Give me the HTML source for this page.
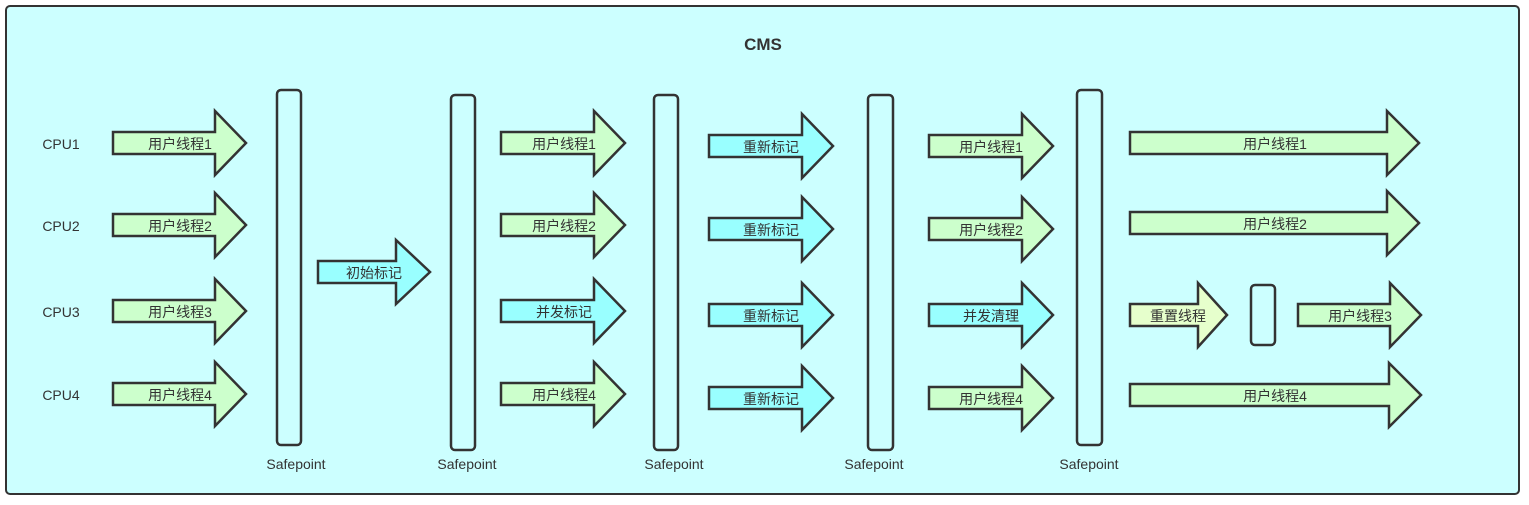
<!DOCTYPE html>
<html><head><meta charset="utf-8"><style>body{margin:0;background:#fff}svg{display:block}text{font-family:"Liberation Sans","Noto Sans CJK SC",sans-serif;font-size:14px;fill:#333}</style></head><body>
<svg width="1529" height="505" viewBox="0 0 1529 505" xmlns="http://www.w3.org/2000/svg">
<rect x="6" y="6" width="1513" height="488" rx="4" fill="#ccffff" stroke="#333" stroke-width="2"/>
<text x="763" y="50" text-anchor="middle" style="font-weight:bold;font-size:17px">CMS</text>
<g text-anchor="middle">
<text x="61" y="149">CPU1</text><text x="61" y="231">CPU2</text><text x="61" y="317">CPU3</text><text x="61" y="400">CPU4</text>
</g>
<g stroke="#333" stroke-width="2.5" fill="#ccffcc">
<polygon points="113,132 215,132 215,111 246,143 215,175 215,154 113,154"/>
<polygon points="113,214 215,214 215,193 246,225 215,257 215,236 113,236"/>
<polygon points="113,300 215,300 215,279 246,311 215,343 215,322 113,322"/>
<polygon points="113,383 215,383 215,362 246,394 215,426 215,405 113,405"/>
<polygon fill="#99ffff" points="318,261 396,261 396,240 430,272 396,304 396,283 318,283"/>
<polygon points="501,132 594,132 594,111 625,143 594,175 594,154 501,154"/>
<polygon points="501,214 594,214 594,193 625,225 594,257 594,236 501,236"/>
<polygon fill="#99ffff" points="501,300 594,300 594,279 625,311 594,343 594,322 501,322"/>
<polygon points="501,383 594,383 594,362 625,394 594,426 594,405 501,405"/>
<polygon fill="#99ffff" points="709,135 802,135 802,114 833,146 802,178 802,157 709,157"/>
<polygon fill="#99ffff" points="709,218 802,218 802,197 833,229 802,261 802,240 709,240"/>
<polygon fill="#99ffff" points="709,304 802,304 802,283 833,315 802,347 802,326 709,326"/>
<polygon fill="#99ffff" points="709,387 802,387 802,366 833,398 802,430 802,409 709,409"/>
<polygon points="929,135 1022,135 1022,114 1053,146 1022,178 1022,157 929,157"/>
<polygon points="929,218 1022,218 1022,197 1053,229 1022,261 1022,240 929,240"/>
<polygon fill="#99ffff" points="929,304 1022,304 1022,283 1053,315 1022,347 1022,326 929,326"/>
<polygon points="929,387 1022,387 1022,366 1053,398 1022,430 1022,409 929,409"/>
<polygon points="1130,132 1387,132 1387,111 1419,143 1387,175 1387,154 1130,154"/>
<polygon points="1130,212 1387,212 1387,191 1419,223 1387,255 1387,234 1130,234"/>
<polygon fill="#e6ffcc" points="1130,304 1198,304 1198,283 1227,315 1198,347 1198,326 1130,326"/>
<polygon points="1298,304 1390,304 1390,283 1421,315 1390,347 1390,326 1298,326"/>
<polygon points="1130,384 1389,384 1389,363 1421,395 1389,427 1389,406 1130,406"/>
</g>
<g text-anchor="middle">
<text x="180" y="149">用户线程1</text><text x="180" y="231">用户线程2</text><text x="180" y="317">用户线程3</text><text x="180" y="400">用户线程4</text>
<text x="374" y="278">初始标记</text>
<text x="564" y="149">用户线程1</text><text x="564" y="231">用户线程2</text><text x="564" y="317">并发标记</text><text x="564" y="400">用户线程4</text>
<text x="771" y="152">重新标记</text><text x="771" y="235">重新标记</text><text x="771" y="321">重新标记</text><text x="771" y="404">重新标记</text>
<text x="991" y="152">用户线程1</text><text x="991" y="235">用户线程2</text><text x="991" y="321">并发清理</text><text x="991" y="404">用户线程4</text>
<text x="1275" y="149">用户线程1</text><text x="1275" y="229">用户线程2</text><text x="1178" y="321">重置线程</text><text x="1360" y="321">用户线程3</text><text x="1275" y="401">用户线程4</text>
</g>
<g fill="#ccffff" stroke="#333" stroke-width="2.5">
<rect x="277" y="90" width="24" height="355" rx="4"/>
<rect x="451" y="95" width="24" height="355" rx="4"/>
<rect x="654" y="95" width="24" height="355" rx="4"/>
<rect x="868" y="95" width="25" height="355" rx="4"/>
<rect x="1077" y="90" width="25" height="355" rx="4"/>
<rect x="1251" y="285" width="24" height="60" rx="4"/>
</g>
<g text-anchor="middle" style="font-size:15px">
<text x="296" y="469">Safepoint</text><text x="467" y="469">Safepoint</text><text x="674" y="469">Safepoint</text><text x="874" y="469">Safepoint</text><text x="1089" y="469">Safepoint</text>
</g>
</svg>
</body></html>
